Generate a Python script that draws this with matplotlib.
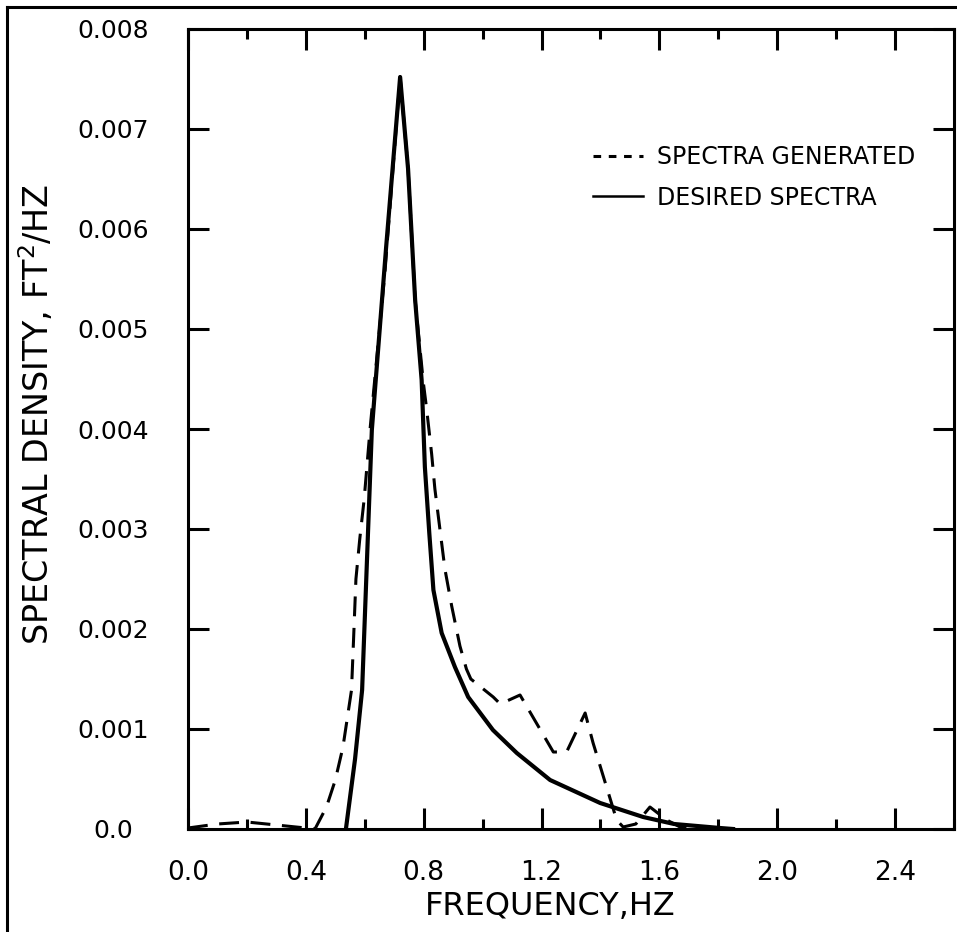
import matplotlib
matplotlib.use("Agg")
import matplotlib.pyplot as plt
from matplotlib.lines import Line2D
from matplotlib.ticker import MultipleLocator, FixedLocator

# ---- data ----
desired_x = [0.536, 0.567, 0.591, 0.624, 0.672, 0.720, 0.747, 0.771, 0.793, 0.804,
             0.819, 0.833, 0.861, 0.906, 0.951, 1.035, 1.116, 1.229, 1.399, 1.545,
             1.65, 1.806, 1.85]
desired_y = [0.0, 0.0007, 0.00139, 0.00399, 0.0058, 0.00752, 0.0066, 0.00529, 0.00449, 0.00362,
             0.00296, 0.00239, 0.00196, 0.00162, 0.00132, 0.00099, 0.00076, 0.00049, 0.00026, 0.00012,
             0.00005, 0.00001, 0.0]

generated_x = [0.0, 0.1, 0.2, 0.3, 0.4, 0.431, 0.47, 0.50, 0.526, 0.555,
               0.562, 0.570, 0.583, 0.598, 0.618, 0.669, 0.720, 0.747, 0.771, 0.799,
               0.81, 0.827, 0.838, 0.855, 0.872, 0.895, 0.923, 0.945, 0.96, 1.036,
               1.06, 1.127, 1.24, 1.285, 1.348, 1.375, 1.455, 1.477, 1.52, 1.568,
               1.625, 1.67, 1.72]
generated_y = [0.00001, 0.00005, 0.00007, 0.00004, 0.00001, 0.0, 0.00022, 0.00049, 0.00082, 0.00139,
               0.0019, 0.0025, 0.0029, 0.0033, 0.0040, 0.00559, 0.00752, 0.0066, 0.00529, 0.00446,
               0.0042, 0.00375, 0.0034, 0.0030, 0.0026, 0.00223, 0.00183, 0.0016, 0.0015, 0.00132,
               0.00125, 0.00134, 0.00077, 0.00077, 0.00116, 0.00086, 0.00009, 0.00002, 0.00005, 0.00022,
               0.00009, 0.00002, 0.0]

x_ticks = [0.0, 0.4, 0.8, 1.2, 1.6, 2.0, 2.4]
x_tick_labels = ["0.0", "0.4", "0.8", "1.2", "1.6", "2.0", "2.4"]
y_ticks = [0.0, 0.001, 0.002, 0.003, 0.004, 0.005, 0.006, 0.007, 0.008]
y_tick_labels = ["0.0", "0.001", "0.002", "0.003", "0.004", "0.005", "0.006", "0.007", "0.008"]

label_generated = "SPECTRA GENERATED"
label_desired = "DESIRED SPECTRA"
x_label = "FREQUENCY,HZ"
y_label = "SPECTRAL DENSITY, FT$^2$/HZ"

# ---- figure ----
W, H = 957, 932
fig = plt.figure(figsize=(W / 100, H / 100), dpi=100)
fig.patch.set_facecolor("white")
ax = fig.add_axes([188 / W, 1 - 829 / H, (954 - 188) / W, (829 - 29) / H])

lw_frame = 2.2
for s in ax.spines.values():
    s.set_linewidth(lw_frame)
    s.set_color("black")

ax.plot(desired_x, desired_y, color="black", lw=3.0, solid_joinstyle="round",
        label=label_desired, zorder=3)
ax.plot(generated_x, generated_y, color="black", lw=2.2, dashes=(6.5, 3.8),
        label=label_generated, zorder=3)

ax.set_xlim(0, 2.6)
ax.set_ylim(0, 0.008)

ax.xaxis.set_major_locator(FixedLocator(x_ticks))
ax.xaxis.set_minor_locator(MultipleLocator(0.2))
ax.set_xticklabels(x_tick_labels)
ax.yaxis.set_major_locator(FixedLocator(y_ticks))
ax.set_yticklabels(y_tick_labels)

ax.tick_params(which="both", direction="in", top=True, right=True, width=2.2, color="black")
ax.tick_params(which="major", length=15)
ax.tick_params(which="minor", length=7)
ax.tick_params(axis="x", which="major", labelsize=19, pad=22)
ax.tick_params(axis="y", which="major", labelsize=18, pad=54)
for lab in ax.get_yticklabels():
    lab.set_horizontalalignment("center")

ax.set_xlabel(x_label, fontsize=23)
ax.xaxis.set_label_coords((550 - 188) / (954 - 188), (829 - 891) / 800)
ax.set_ylabel(y_label, fontsize=24)
ax.yaxis.set_label_coords((56 - 188) / (954 - 188), (829 - 415) / 800)

# legend
h_gen = Line2D([], [], color="black", lw=2.2, dashes=(2.5, 2.5))
h_des = Line2D([], [], color="black", lw=1.8)
leg = ax.legend([h_gen, h_des], [label_generated, label_desired],
                loc="upper left", bbox_to_anchor=(593 / W, 1 - 145 / H),
                bbox_transform=fig.transFigure, frameon=False, fontsize=17,
                handlelength=2.1, handletextpad=0.6, labelspacing=0.7,
                borderpad=0, borderaxespad=0)

# outer frame of the page (left and top edges)
fig.add_artist(Line2D([7 / W, 7 / W], [0, 1 - 7 / H], transform=fig.transFigure,
                      color="black", lw=2.2))
fig.add_artist(Line2D([7 / W, 1], [1 - 7 / H, 1 - 7 / H], transform=fig.transFigure,
                      color="black", lw=2.2))

fig.savefig("out.png", dpi=100, facecolor="white")
